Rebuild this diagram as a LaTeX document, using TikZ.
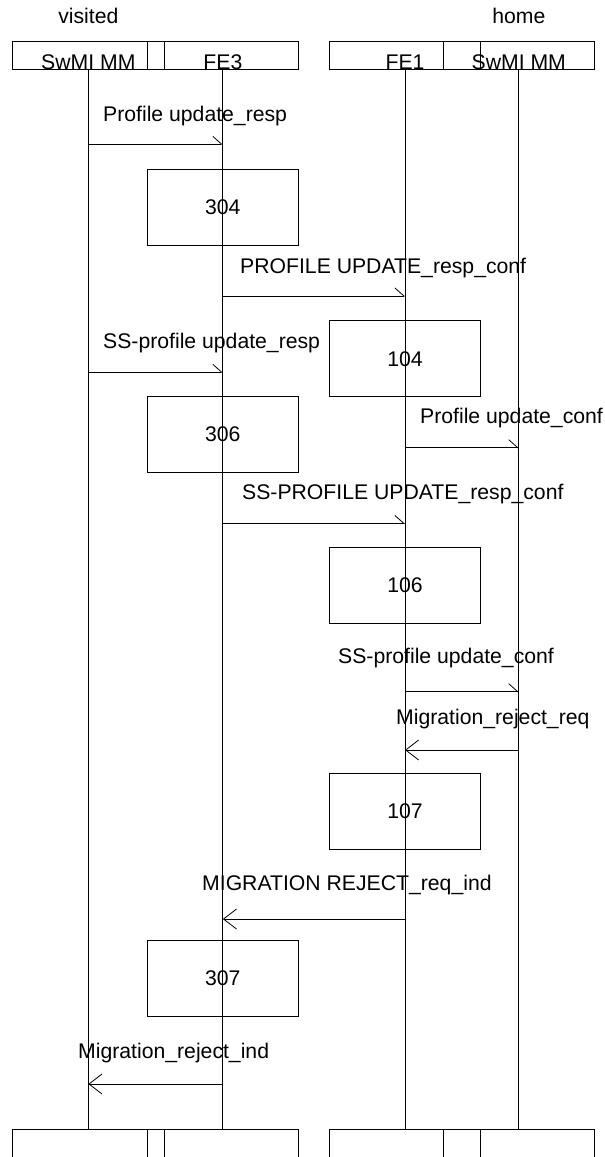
\documentclass[tikz,border=0pt]{standalone}
\usepackage{fontspec}
\setmainfont{Liberation Sans}
\usetikzlibrary{arrows.meta, positioning}

\begin{document}
\begin{tikzpicture}[
  x=1pt, y=-1pt,
  every node/.style={font=\fontsize{21.2}{25}\selectfont, inner sep=0pt},
  entity/.style={
    rectangle, draw, line width=0.8pt,
    minimum width=151.3pt, minimum height=28.5pt,
    text height=28.5pt, text depth=0pt
  },
  activity/.style={
    rectangle, draw, line width=0.8pt,
    minimum width=151.3pt, minimum height=76pt
  },
  msg/.style={line width=0.8pt},
  toR/.style={msg, -{Straight Barb[left, length=9pt, width=16pt]}},
  toL/.style={msg, -{Straight Barb[length=13pt, width=20pt]}},
  lbl/.style={anchor=west}
]
  \useasboundingbox (0,0) rectangle (605,1157);
  \clip (0,0) rectangle (605,1157);

  % Domains
  \node (vis) at (88.35,16) {visited};
  \node (hom) at (518.8,16) {home};

  % Entities, top and bottom
  \node[entity] (vmm) at (88.35,55.5)  {SwMI MM};
  \node[entity] (fe3) at (222.85,55.5) {FE3};
  \node[entity] (fe1) at (405,55.5)    {FE1};
  \node[entity] (hmm) at (518.8,55.5)  {SwMI MM};
  \node[entity] (vmmb) at (88.35,1143.25)  {};
  \node[entity] (fe3b) at (222.85,1143.25) {};
  \node[entity] (fe1b) at (405,1143.25)    {};
  \node[entity] (hmmb) at (518.8,1143.25)  {};

  % Lifelines
  \draw[msg] (vmm) -- (vmmb);
  \draw[msg] (fe3) -- (fe3b);
  \draw[msg] (fe1) -- (fe1b);
  \draw[msg] (hmm) -- (hmmb);

  % Processing steps
  \node[activity] (a304) at (222.85,207)    {304};
  \node[activity] (a104) at (405,358.85)    {104};
  \node[activity] (a306) at (222.85,434.35) {306};
  \node[activity] (a106) at (405,585)       {106};
  \node[activity] (a107) at (405,811.5)     {107};
  \node[activity] (a307) at (222.85,978)    {307};

  % Messages
  \node[lbl] (m1) at (103,116) {Profile update\_resp};
  \draw[toR] (vmm |- 0,144.3) -- (fe3 |- 0,144.3);
  \node[lbl] (m2) at (240,268) {PROFILE UPDATE\_resp\_conf};
  \draw[toR] (fe3 |- 0,296) -- (fe1 |- 0,296);
  \node[lbl] (m3) at (103,343) {SS-profile update\_resp};
  \draw[toR] (vmm |- 0,372.3) -- (fe3 |- 0,372.3);
  \node[lbl] (m4) at (420,418) {Profile update\_conf};
  \draw[toR] (fe1 |- 0,447.7) -- (hmm |- 0,447.7);
  \node[lbl] (m5) at (242,494) {SS-PROFILE UPDATE\_resp\_conf};
  \draw[toR] (fe3 |- 0,523.5) -- (fe1 |- 0,523.5);
  \node[lbl] (m6) at (338,658) {SS-profile update\_conf};
  \draw[toR] (fe1 |- 0,691.7) -- (hmm |- 0,691.7);
  \node[lbl] (m7) at (396,719) {Migration\_reject\_req};
  \draw[toL] (hmm |- 0,750) -- (fe1 |- 0,750);
  \node[lbl] (m8) at (202,885) {MIGRATION REJECT\_req\_ind};
  \draw[toL] (fe1 |- 0,919) -- (fe3 |- 0,919);
  \node[lbl] (m9) at (78,1053) {Migration\_reject\_ind};
  \draw[toL] (fe3 |- 0,1084) -- (vmm |- 0,1084);
\end{tikzpicture}
\end{document}
